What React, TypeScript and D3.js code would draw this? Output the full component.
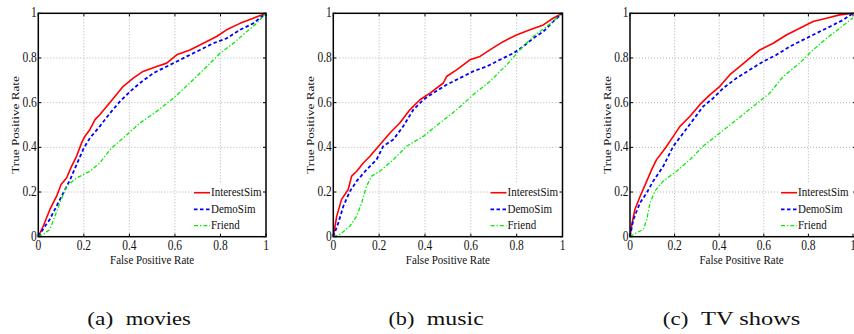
import React from 'react';
import * as d3 from 'd3';

type P = [number, number];

const seriesNames = ['InterestSim', 'DemoSim', 'Friend'];
const seriesColors = ['#ff0000', '#0000ff', '#00ee00'];
const tickValues = [0, 0.2, 0.4, 0.6, 0.8, 1];
const tickLabels = ['0', '0.2', '0.4', '0.6', '0.8', '1'];

const moviesInterest: P[] = [[0,0],[0.022,0.048],[0.051,0.122],[0.08,0.18],[0.10,0.234],[0.124,0.263],[0.146,0.315],[0.168,0.36],[0.19,0.42],[0.205,0.45],[0.227,0.48],[0.249,0.524],[0.27,0.546],[0.30,0.583],[0.33,0.62],[0.373,0.673],[0.417,0.71],[0.46,0.74],[0.52,0.762],[0.564,0.777],[0.608,0.814],[0.666,0.836],[0.725,0.866],[0.783,0.896],[0.827,0.926],[0.886,0.955],[0.944,0.978],[1,1]];
const moviesDemo: P[] = [[0,0],[0.03,0.048],[0.05,0.077],[0.08,0.137],[0.11,0.196],[0.14,0.256],[0.168,0.323],[0.2,0.397],[0.227,0.442],[0.27,0.494],[0.315,0.553],[0.359,0.606],[0.403,0.65],[0.447,0.688],[0.505,0.732],[0.564,0.762],[0.608,0.784],[0.652,0.807],[0.71,0.836],[0.769,0.866],[0.827,0.888],[0.886,0.926],[0.944,0.955],[1,1]];
const moviesFriend: P[] = [[0,0],[0.022,0.01],[0.051,0.033],[0.073,0.092],[0.095,0.152],[0.124,0.226],[0.168,0.263],[0.227,0.293],[0.27,0.33],[0.315,0.39],[0.373,0.442],[0.447,0.509],[0.52,0.561],[0.593,0.62],[0.666,0.688],[0.74,0.762],[0.798,0.821],[0.857,0.866],[0.915,0.918],[0.959,0.955],[1,1]];

const musicInterest: P[] = [[0,0],[0.015,0.092],[0.036,0.167],[0.065,0.211],[0.08,0.271],[0.102,0.293],[0.131,0.33],[0.16,0.36],[0.203,0.412],[0.247,0.464],[0.29,0.509],[0.334,0.568],[0.378,0.613],[0.422,0.643],[0.48,0.688],[0.494,0.717],[0.538,0.747],[0.596,0.792],[0.64,0.807],[0.683,0.836],[0.741,0.873],[0.799,0.903],[0.858,0.926],[0.916,0.948],[0.959,0.978],[1,1]];
const musicDemo: P[] = [[0,0],[0.022,0.0625],[0.044,0.137],[0.073,0.204],[0.102,0.249],[0.145,0.3],[0.189,0.345],[0.218,0.405],[0.262,0.435],[0.305,0.494],[0.349,0.568],[0.392,0.613],[0.436,0.643],[0.494,0.68],[0.552,0.71],[0.61,0.74],[0.669,0.762],[0.727,0.792],[0.785,0.821],[0.828,0.851],[0.872,0.888],[0.916,0.918],[0.959,0.963],[1,1]];
const musicFriend: P[] = [[0,0],[0.029,0.01],[0.073,0.048],[0.102,0.092],[0.124,0.152],[0.145,0.226],[0.167,0.271],[0.203,0.293],[0.262,0.345],[0.32,0.405],[0.392,0.449],[0.465,0.509],[0.538,0.568],[0.61,0.635],[0.683,0.695],[0.756,0.769],[0.814,0.836],[0.872,0.896],[0.93,0.94],[1,1]];

const tvInterest: P[] = [[0,0],[0.007,0.048],[0.022,0.122],[0.045,0.18],[0.075,0.249],[0.097,0.3],[0.119,0.345],[0.142,0.375],[0.164,0.405],[0.194,0.449],[0.224,0.494],[0.269,0.539],[0.313,0.591],[0.358,0.635],[0.403,0.673],[0.448,0.725],[0.493,0.762],[0.537,0.799],[0.582,0.836],[0.642,0.866],[0.701,0.903],[0.761,0.933],[0.821,0.963],[0.881,0.978],[0.94,0.993],[1,1]];
const tvDemo: P[] = [[0,0],[0.015,0.077],[0.045,0.152],[0.075,0.196],[0.104,0.249],[0.149,0.315],[0.194,0.405],[0.239,0.464],[0.284,0.524],[0.328,0.583],[0.373,0.62],[0.418,0.665],[0.478,0.71],[0.537,0.747],[0.597,0.784],[0.657,0.814],[0.716,0.851],[0.776,0.881],[0.836,0.911],[0.896,0.94],[0.955,0.97],[1,1]];
const tvFriend: P[] = [[0,0],[0.03,0.018],[0.06,0.033],[0.075,0.077],[0.09,0.152],[0.112,0.204],[0.149,0.249],[0.209,0.293],[0.269,0.345],[0.328,0.405],[0.403,0.464],[0.478,0.524],[0.552,0.583],[0.627,0.643],[0.687,0.717],[0.761,0.777],[0.821,0.836],[0.881,0.888],[0.94,0.933],[1,0.98]];

const captionTags = ['(a)', '(b)', '(c)'];
const captionNames = ['movies', 'music', 'TV shows'];

const panels = [
  { left: 38.3, right: 266, frameRight: 266, data: [moviesInterest, moviesDemo, moviesFriend],
    cap: { tagX: 87.3, tagW: 26, nameX: 125.7, nameW: 65 } },
  { left: 333.3, right: 562.5, frameRight: 562.5, data: [musicInterest, musicDemo, musicFriend],
    cap: { tagX: 388.4, tagW: 26, nameX: 426.8, nameW: 57 } },
  { left: 630, right: 853, frameRight: 856, data: [tvInterest, tvDemo, tvFriend],
    cap: { tagX: 662.8, tagW: 25.5, nameX: 701, nameW: 99.3 } },
];

const TOP = 13.3;
const BOTTOM = 236.7;
const SY = 1.2;

const dashes = [undefined, '3.5,2.5', '4,2,1.3,2'];
const widths = [1.6, 1.8, 1.3];

const css = `
  text.ax { font-family: "Liberation Serif", "Times New Roman", Times, "DejaVu Serif", serif; }
  text.cap { font-family: "Liberation Serif", "DejaVu Serif", "Times New Roman", serif; }
`;

function Panel({ p, idx }: { p: typeof panels[number]; idx: number }) {
  const x = d3.scaleLinear().domain([0, 1]).range([p.left, p.right]);
  const y = d3.scaleLinear().domain([0, 1]).range([BOTTOM, TOP]);
  const line = d3.line<P>().x(d => x(d[0])).y(d => y(d[1]));
  const grid = tickValues.filter(v => v > 0 && v < 1);
  const legX = p.right - 55;
  const legRows = [192.7, 209.3, 225.7];
  const t = (tx: number, ty: number) => `translate(${tx},${ty}) scale(1,${SY})`;
  return (
    <g>
      {grid.map(v => (
        <line key={'gx' + v} x1={x(v)} x2={x(v)} y1={TOP} y2={BOTTOM} stroke="#aaa" strokeWidth={0.9} strokeDasharray="1,2" />
      ))}
      {grid.map(v => (
        <line key={'gy' + v} x1={p.left} x2={p.frameRight} y1={y(v)} y2={y(v)} stroke="#aaa" strokeWidth={0.9} strokeDasharray="1,2" />
      ))}
      {p.data.map((d, i) => (
        <path key={'s' + i} d={line(d) || ''} fill="none" stroke={seriesColors[i]} strokeWidth={widths[i]} strokeDasharray={dashes[i]} strokeLinejoin="round" />
      ))}
      <rect x={legX - 19} y={184} width={p.frameRight - legX + 19} height={51.5} fill="#fff" />
      {seriesNames.map((n, i) => (
        <g key={'l' + i}>
          <line x1={legX - 17} x2={legX - 1} y1={legRows[i]} y2={legRows[i]} stroke={seriesColors[i]} strokeWidth={widths[i]} strokeDasharray={dashes[i]} />
          <text className="ax" transform={t(legX, legRows[i] + 3.6)} fontSize={11} fill="#111">{n}</text>
        </g>
      ))}
      {tickValues.map(v => (
        <g key={'t' + v}>
          <line x1={x(v)} x2={x(v)} y1={BOTTOM} y2={BOTTOM - 3} stroke="#000" strokeWidth={1} />
          <line x1={x(v)} x2={x(v)} y1={TOP} y2={TOP + 3} stroke="#000" strokeWidth={1} />
          <line x1={p.left} x2={p.left + 3} y1={y(v)} y2={y(v)} stroke="#000" strokeWidth={1} />
          <line x1={p.frameRight} x2={p.frameRight - 3} y1={y(v)} y2={y(v)} stroke="#000" strokeWidth={1} />
        </g>
      ))}
      <rect x={p.left} y={TOP} width={p.frameRight - p.left} height={BOTTOM - TOP} fill="none" stroke="#000" strokeWidth={1.5} />
      {tickValues.map((v, i) => (
        <text className="ax" key={'xl' + v} transform={t(x(v), 250)} textAnchor="middle" fontSize={11.5} fill="#111">{tickLabels[i]}</text>
      ))}
      {tickValues.map((v, i) => (
        <text className="ax" key={'yl' + v} transform={t(p.left - 1.5, y(v) + 4)} textAnchor="end" fontSize={11.5} fill="#111">{tickLabels[i]}</text>
      ))}
      <text className="ax" transform={t((p.left + p.right) / 2, 264)} textAnchor="middle" fontSize={11} fill="#111">False Positive Rate</text>
      <text className="ax" transform={`translate(${p.left - 19},${(TOP + BOTTOM) / 2}) scale(1,${SY}) rotate(-90)`} textAnchor="middle" fontSize={11} fill="#111">True Positive Rate</text>
      <text className="cap" x={p.cap.tagX} y={325} fontSize={18} textLength={p.cap.tagW} lengthAdjust="spacingAndGlyphs" fill="#111">{captionTags[idx]}</text>
      <text className="cap" x={p.cap.nameX} y={325} fontSize={18} textLength={p.cap.nameW} lengthAdjust="spacingAndGlyphs" fill="#111">{captionNames[idx]}</text>
    </g>
  );
}

export default function App() {
  return (
    <svg width={854} height={334} style={{ position: 'absolute', left: 0, top: 0, background: '#fff' }}>
      <style>{css}</style>
      <rect x={0} y={0} width={854} height={334} fill="#fff" />
      {panels.map((p, i) => <Panel key={i} p={p} idx={i} />)}
    </svg>
  );
}
